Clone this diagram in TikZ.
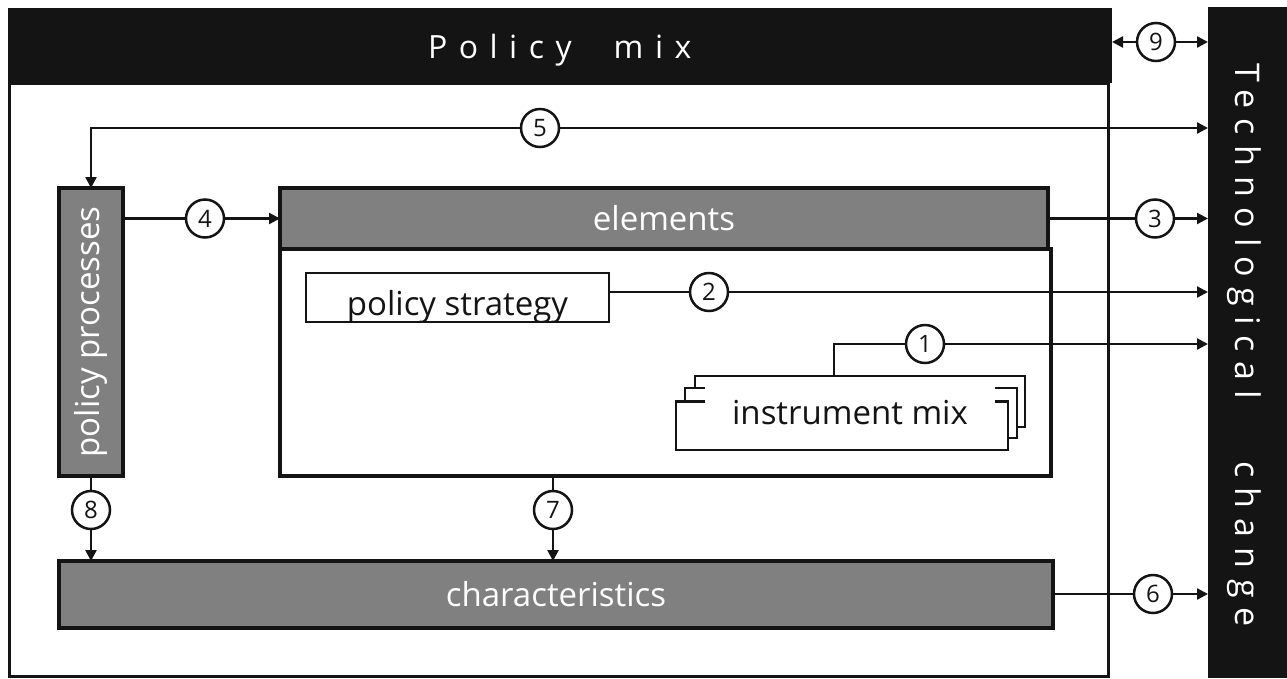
\documentclass[tikz,border=0pt]{standalone}
\usepackage{fontspec}
\setmainfont{Open Sans}
\newfontfamily\hdfont[LetterSpace=36]{Open Sans}
\newfontfamily\techfont[LetterSpace=30]{Open Sans}
\usetikzlibrary{arrows.meta}
\definecolor{ink}{HTML}{141414}
\definecolor{boxgray}{HTML}{808080}
\begin{document}
\begin{tikzpicture}[x=1pt,y=-1pt,
  every node/.style={inner sep=0pt, outer sep=0pt},
  blackbox/.style={fill=ink, draw=none},
  graybox/.style={fill=boxgray, draw=ink, line width=4pt},
  whitebox/.style={fill=white, draw=ink},
  conn/.style={draw=ink, line width=2.3pt},
  tip/.style={-{Triangle[length=11pt,width=11pt]}},
  num/.style={circle, draw=ink, fill=white, line width=2.5pt, minimum size=38pt, font=\fontsize{24}{24}\selectfont, text=ink},
  lbl/.style={font=\fontsize{33}{33}\selectfont}
]
\useasboundingbox (0,0) rectangle (1287,678);

% policy mix frame
\node[whitebox, line width=3pt, minimum width=1099pt, minimum height=593pt] (pmbody) at (558.5,379.5) {};
\node[blackbox, minimum width=1104pt, minimum height=75pt] (pmhead) at (560,45.5) {};
\node[text=white, anchor=base west] (pmtitle) at (428,58) {\fontsize{32}{32}\hdfont Policy\hspace{42pt}mix};

% technological change
\node[blackbox, minimum width=79pt, minimum height=671pt] (tech) at (1247.5,342.5) {};
\node[text=white, rotate=-90, anchor=base west] (techtitle) at (1235,63) {\fontsize{34}{34}\techfont Technological\hspace{62pt}change};

% elements
\node[whitebox, line width=4pt, minimum width=771pt, minimum height=227pt] (elbody) at (665.5,362.5) {};
\node[graybox, minimum width=768pt, minimum height=61pt] (elhead) at (664,218.5) {};
\node[lbl, text=white] (eltext) at (elhead.center) {elements};

% policy strategy
\node[whitebox, line width=2.5pt, minimum width=303pt, minimum height=49pt] (ps) at (457.5,297.5) {};
\node[lbl, text=ink, anchor=base] (pstext) at (457.5,315) {policy strategy};

% instrument mix (stacked)
\node[whitebox, line width=2.5pt, minimum width=330pt, minimum height=51pt] (imb) at (860,401.5) {};
\node[whitebox, line width=2.5pt, minimum width=332pt, minimum height=50pt] (imm) at (851,413) {};
\node[whitebox, line width=2.5pt, minimum width=332pt, minimum height=48.5pt] (imf) at (842,425.75) {};
\node[fill=white, minimum width=290pt, minimum height=30pt] (imcover) at (850,396) {};
\node[lbl, text=ink, anchor=base] (imtext) at (850,424) {instrument mix};

% characteristics
\node[graybox, minimum width=994pt, minimum height=67pt] (ch) at (556,594.5) {};
\node[lbl, text=white] (chtext) at (ch.center) {characteristics};

% policy processes
\node[graybox, minimum width=64pt, minimum height=288pt] (pp) at (91,332) {};
\node[lbl, text=white, rotate=90] (pptext) at (pp.center) {policy processes};

% numbered circles
\node[num] (c1) at (925,344) {1};
\node[num] (c2) at (709,292) {2};
\node[num] (c3) at (1155,218.5) {3};
\node[num] (c4) at (205,218.5) {4};
\node[num] (c5) at (540,128) {5};
\node[num] (c6) at (1153,594) {6};
\node[num] (c7) at (553,510) {7};
\node[num] (c8) at (91,510) {8};
\node[num] (c9) at (1156,42) {9};
\coordinate (k1) at (834,344);

% connectors
\draw[conn, tip] (c9) -- (tech.west |- c9);
\draw[conn, tip] (c9) -- (pmhead.east |- c9);
\draw[conn, tip] (c5) -| (pp.north);
\draw[conn, tip] (c5) -- (tech.west |- c5);
\draw[conn] (pp.east |- c4) -- (c4);
\draw[conn, tip] (c4) -- (elhead.west |- c4);
\draw[conn] (elhead.east |- c3) -- (c3);
\draw[conn, tip] (c3) -- (tech.west |- c3);
\draw[conn] (ps.east |- c2) -- (c2);
\draw[conn, tip] (c2) -- (tech.west |- c2);
\draw[conn] (imb.north -| k1) -- (k1) -- (c1);
\draw[conn, tip] (c1) -- (tech.west |- c1);
\draw[conn] (pp.south) -- (c8);
\draw[conn, tip] (c8) -- (ch.north -| c8);
\draw[conn] (elbody.south -| c7) -- (c7);
\draw[conn, tip] (c7) -- (ch.north -| c7);
\draw[conn] (ch.east |- c6) -- (c6);
\draw[conn, tip] (c6) -- (tech.west |- c6);
\end{tikzpicture}
\end{document}
